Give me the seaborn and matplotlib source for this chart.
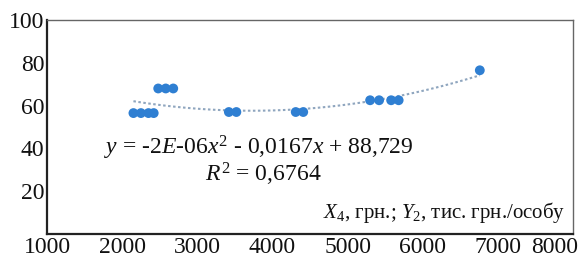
import matplotlib
matplotlib.use("Agg")
import matplotlib.pyplot as plt
import matplotlib.transforms as mtransforms
import seaborn as sns
import numpy as np
import pandas as pd

# Data
x_vals = [2150, 2250, 2350, 2420, 2480, 2580, 2680, 3420, 3520, 4310, 4410, 5300, 5420, 5580, 5680, 6760]
y_vals = [56.5, 56.5, 56.5, 56.5, 68, 68, 68, 57, 57, 57, 57, 62.5, 62.5, 62.5, 62.5, 76.5]
x_ticks = [1000, 2000, 3000, 4000, 5000, 6000, 7000, 8000]
y_ticks = [20, 40, 60, 80, 100]
equation_text = "$y$ = -2$E$-06$x^2$ - 0,0167$x$ + 88,729"
r2_text = "$R^2$ = 0,6764"
axis_text = "$X_4$, грн.; $Y_2$, тис. грн./особу"

sns.set_theme(style="white")
plt.rcParams["font.family"] = ["Liberation Serif", "DejaVu Serif"]
plt.rcParams["mathtext.fontset"] = "custom"
plt.rcParams["mathtext.rm"] = "Liberation Serif"
plt.rcParams["mathtext.it"] = "Liberation Serif:italic"

df = pd.DataFrame({"x": x_vals, "y": y_vals})

fig = plt.figure(figsize=(5.79, 2.57), dpi=100)
ax = fig.add_axes([0.0812, 0.0895, 0.9084, 0.8327])

sns.regplot(data=df, x="x", y="y", order=2, ci=None, ax=ax,
            scatter_kws=dict(s=50, color="#2f7fd2", edgecolor="none", alpha=1, zorder=3),
            line_kws=dict(color="#8fa6bf", linestyle=(0, (1.2, 1.2)), linewidth=1.5, zorder=2))

ax.set_xlim(1000, 8000)
ax.set_ylim(0, 100)
ax.set_xticks(x_ticks)
ax.set_xticklabels([str(t) for t in x_ticks])
ax.set_yticks(y_ticks)
ax.set_yticklabels([str(t) for t in y_ticks])
ax.tick_params(axis="both", length=0, labelsize=17, colors="#111111", pad=2)
last = ax.get_xticklabels()[-1]
last.set_horizontalalignment("right")
last.set_transform(last.get_transform() + mtransforms.ScaledTranslation(5 / 100, 0, fig.dpi_scale_trans))
ax.set_xlabel("")
ax.set_ylabel("")
for side, sp in ax.spines.items():
    sp.set_visible(True)
    sp.set_color("#222222")
    sp.set_linewidth(1.0)
ax.spines["left"].set_linewidth(1.6)
ax.spines["bottom"].set_linewidth(1.6)
ax.spines["top"].set_color("#666666")
ax.spines["right"].set_color("#666666")

ax.text(0.108, 0.40, equation_text, transform=ax.transAxes, ha="left", va="center",
        fontsize=17, color="#111111")
ax.text(0.30, 0.28, r2_text, transform=ax.transAxes, ha="left", va="center",
        fontsize=17, color="#111111")
ax.text(0.985, 0.10, axis_text, transform=ax.transAxes, ha="right", va="center",
        fontsize=15, color="#111111")

fig.savefig("out.png", dpi=100)
